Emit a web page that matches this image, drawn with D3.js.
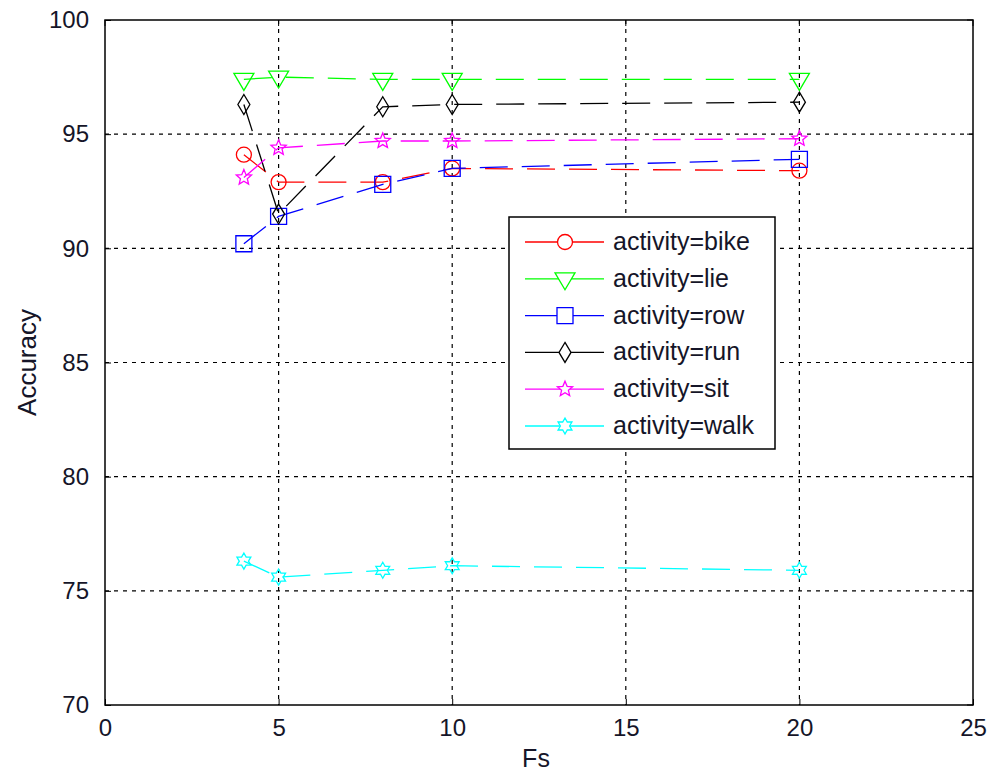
<!DOCTYPE html>
<html>
<head>
<meta charset="utf-8">
<script src="https://cdn.jsdelivr.net/npm/d3@7"></script>
<style>
body{margin:0;background:#fff}
text{font-family:"Liberation Sans",Arial,sans-serif}
</style>
</head>
<body>
<div id="chart"></div>
<script>
'use strict'
const fsValues=[4,5,8,10,20]
const seriesNames=['activity=bike','activity=lie','activity=row','activity=run','activity=sit','activity=walk']
const bike=[94.1,92.9,92.9,93.5,93.4]
const lie=[97.4,97.5,97.4,97.4,97.4]
const row=[90.2,91.4,92.8,93.5,93.9]
const run=[96.3,91.5,96.2,96.3,96.4]
const sit=[93.1,94.4,94.7,94.7,94.8]
const walk=[76.3,75.6,75.9,76.1,75.9]
const xTicks=[0,5,10,15,20,25]
const yTicks=[70,75,80,85,90,95,100]

const colors=['#ff0000','#00ff00','#0000ff','#000000','#ff00ff','#00ffff']
const shapes=['circle','triangle','square','diamond','pentagram','hexagram']
const allSeries=[bike,lie,row,run,sit,walk]

let width=993,height=776
let margin={top:20,right:20,bottom:71,left:105}
let w=width-margin.left-margin.right
let h=height-margin.top-margin.bottom
let textColor='#151528'

let svg=d3.select('#chart').append('svg').attr('width',width).attr('height',height)
let g=svg.append('g').attr('transform','translate('+margin.left+','+margin.top+')')

let x=d3.scaleLinear().domain([0,25]).range([0,w])
let y=d3.scaleLinear().domain([70,100]).range([h,0])

// grid
g.selectAll('.vgrid').data(xTicks.slice(1,-1)).enter().append('line')
  .attr('x1',d=>x(d)).attr('x2',d=>x(d)).attr('y1',0).attr('y2',h)
  .attr('stroke','#000').attr('stroke-width',1.2).attr('stroke-dasharray','4,5')
g.selectAll('.hgrid').data(yTicks.slice(1,-1)).enter().append('line')
  .attr('y1',d=>y(d)).attr('y2',d=>y(d)).attr('x1',0).attr('x2',w)
  .attr('stroke','#000').attr('stroke-width',1.2).attr('stroke-dasharray','4,5')

// axes
let xAxis=d3.axisBottom(x).tickValues(xTicks).tickSizeInner(-6).tickSizeOuter(0).tickPadding(14)
let yAxis=d3.axisLeft(y).tickValues(yTicks).tickSizeInner(-6).tickSizeOuter(0).tickPadding(16)
let gx=g.append('g').attr('transform','translate(0,'+h+')').call(xAxis)
let gy=g.append('g').call(yAxis)
;[gx,gy].forEach(a=>{
  a.select('.domain').remove()
  a.selectAll('line').attr('stroke','#000')
  a.selectAll('text').attr('font-size',24).attr('fill',textColor)
})
// ticks on top/right
g.selectAll('.tt').data(xTicks).enter().append('line')
  .attr('x1',d=>x(d)).attr('x2',d=>x(d)).attr('y1',0).attr('y2',6).attr('stroke','#000')
g.selectAll('.tr').data(yTicks).enter().append('line')
  .attr('y1',d=>y(d)).attr('y2',d=>y(d)).attr('x1',w).attr('x2',w-6).attr('stroke','#000')

g.append('rect').attr('width',w).attr('height',h).attr('fill','none').attr('stroke','#000').attr('stroke-width',1.5)

svg.append('text').attr('x',536).attr('y',767).attr('text-anchor','middle')
  .attr('font-size',25).attr('fill',textColor).text('Fs')
svg.append('text').attr('transform','translate(36,'+(margin.top+h/2)+') rotate(-90)')
  .attr('text-anchor','middle').attr('font-size',26).attr('fill',textColor).text('Accuracy')

function starPath(n,ro,ri){
  let p=[]
  for(let i=0;i<2*n;i++){
    let r=i%2==0?ro:ri
    let a=-Math.PI/2+i*Math.PI/n
    p.push([r*Math.cos(a),r*Math.sin(a)])
  }
  return 'M'+p.map(q=>q[0].toFixed(2)+','+q[1].toFixed(2)).join('L')+'Z'
}
function markerPath(s){
  if(s=='circle')return d3.arc()({innerRadius:0,outerRadius:7.5,startAngle:0,endAngle:2*Math.PI})
  if(s=='triangle')return 'M-10,-6L10,-6L0,11Z'
  if(s=='square')return 'M-8,-8L8,-8L8,8L-8,8Z'
  if(s=='diamond')return 'M0,-10L6,0L0,10L-6,0Z'
  if(s=='pentagram')return starPath(5,8,3.6)
  if(s=='hexagram')return starPath(6,8,4.6)
}

let line=d3.line().x((d,i)=>x(fsValues[i])).y(d=>y(d))
allSeries.forEach((s,k)=>{
  g.append('path').datum(s).attr('d',line).attr('fill','none')
    .attr('stroke',colors[k]).attr('stroke-width',1.3).attr('stroke-dasharray','28,14')
  g.selectAll('.m'+k).data(s).enter().append('path')
    .attr('transform',(d,i)=>'translate('+x(fsValues[i])+','+y(d)+')')
    .attr('d',markerPath(shapes[k])).attr('fill','none').attr('stroke',colors[k]).attr('stroke-width',1.3)
})

// legend
let lg=svg.append('g').attr('transform','translate(509,217)')
lg.append('rect').attr('width',266).attr('height',232).attr('fill','#fff').attr('stroke','#000').attr('stroke-width',1.5)
let items=lg.selectAll('.item').data(seriesNames).enter().append('g')
  .attr('transform',(d,i)=>'translate(0,'+(25+i*36.8)+')')
items.append('line').attr('x1',16).attr('x2',95).attr('stroke',(d,i)=>colors[i]).attr('stroke-width',1.3)
items.append('path').attr('transform','translate(56,0)').attr('d',(d,i)=>markerPath(shapes[i]))
  .attr('fill','#fff').attr('stroke',(d,i)=>colors[i]).attr('stroke-width',1.3)
items.append('text').attr('x',104).attr('y',8).attr('font-size',25).attr('fill',textColor).text(d=>d)
</script>
</body>
</html>
